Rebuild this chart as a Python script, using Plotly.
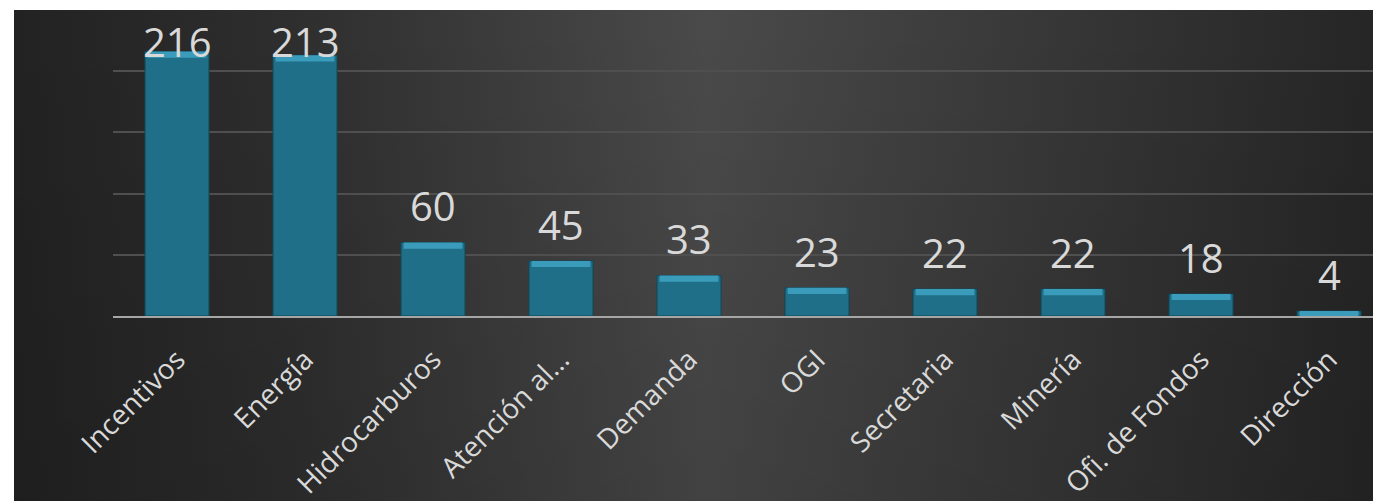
import base64
import plotly.graph_objects as go

categories = ["Incentivos", "Energía", "Hidrocarburos", "Atención al...", "Demanda",
              "OGI", "Secretaria", "Minería", "Ofi. de Fondos", "Dirección"]
values = [216, 213, 60, 45, 33, 23, 22, 22, 18, 4]

# page body has an 8px margin, so figure origin is at (8, 8) in the window
W, H = 1373, 493
L, R, T, B = 105, 0, 2, 183

svg = """<svg xmlns='http://www.w3.org/2000/svg' width='1367' height='491' preserveAspectRatio='none'>
<defs>
<linearGradient id='g' x1='0' y1='0' x2='1' y2='0'>
<stop offset='0' stop-color='#222222'/>
<stop offset='0.2' stop-color='#2e2e2e'/>
<stop offset='0.5' stop-color='#4a4a4a'/>
<stop offset='0.8' stop-color='#333333'/>
<stop offset='1' stop-color='#242424'/>
</linearGradient>
<linearGradient id='v' x1='0' y1='0' x2='0' y2='1'>
<stop offset='0' stop-color='#000000' stop-opacity='0'/>
<stop offset='1' stop-color='#000000' stop-opacity='0.12'/>
</linearGradient>
</defs>
<rect width='1367' height='491' fill='url(#g)'/>
<rect width='1367' height='491' fill='url(#v)'/>
</svg>"""
src = "data:image/svg+xml;base64," + base64.b64encode(svg.encode()).decode()

pw = W - L - R
ph = H - T - B
panel_x0 = 14 - 8
panel_y0 = 10 - 8

bevel = [min(5, v) for v in values]
bevel_base = [v - b for v, b in zip(values, bevel)]

fig = go.Figure()
fig.add_trace(go.Bar(
    x=categories, y=values, width=0.5,
    marker=dict(color="#1e6f87", line=dict(color="#12485a", width=1)),
    hoverinfo="x+y",
))
fig.add_trace(go.Bar(
    x=categories, y=bevel, base=bevel_base, width=0.46,
    marker=dict(color="#3a9cba", line=dict(width=0)),
    hoverinfo="skip",
))

ymax = 250
annotations = []
for c, v in zip(categories, values):
    annotations.append(dict(
        x=c, y=min(v + 30, 224), xref="x", yref="y", text=str(v), showarrow=False,
        yanchor="middle", font=dict(family="Open Sans", size=40, color="#d9d9d9"),
    ))

fig.update_layout(
    width=W, height=H,
    margin=dict(l=L, r=R, t=T, b=B, pad=0),
    paper_bgcolor="white",
    plot_bgcolor="rgba(0,0,0,0)",
    showlegend=False,
    barmode="overlay",
    annotations=annotations,
    images=[dict(
        source=src, xref="paper", yref="paper",
        x=(panel_x0 - L) / pw, y=1 + (T - panel_y0) / ph,
        sizex=(W - panel_x0 + 20) / pw, sizey=(H - panel_y0 + 20) / ph,
        xanchor="left", yanchor="top", sizing="stretch", layer="below",
    )],
    xaxis=dict(
        range=[-0.5, 9.406], showgrid=False, showline=True, linecolor="#a6a6a6",
        linewidth=2, tickangle=-45, ticks="outside", ticklen=14,
        tickcolor="rgba(0,0,0,0)",
        tickfont=dict(family="Open Sans", size=28, color="#d9d9d9"),
    ),
    yaxis=dict(
        range=[0, ymax], dtick=50, showgrid=True, gridcolor="#4f4f4f", gridwidth=2,
        zeroline=False, showticklabels=False, ticks="",
    ),
)

fig.write_html("out.html")
